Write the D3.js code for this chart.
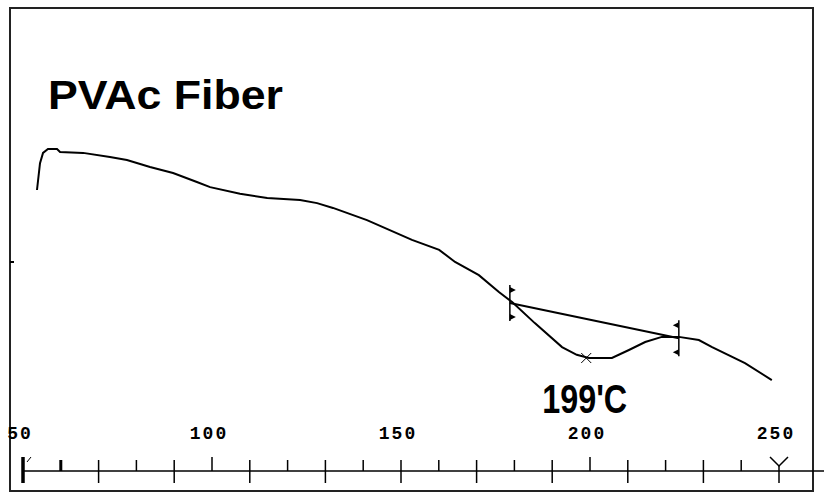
<!DOCTYPE html>
<html>
<head>
<meta charset="utf-8">
<script src="https://d3js.org/d3.v7.min.js"></script>
<style>
  body { margin: 0; background: #fff; }
  svg { display: block; }
</style>
</head>
<body>
<div id="chart"></div>
<script>
// DSC trace (temperature in C, signal in arbitrary units)
const temps = [53.7, 54.5, 55.3, 56.6, 59.0, 59.8, 65.9, 73.0, 77.5, 83.6, 89.7, 96.0, 99.5,
  107.4, 114.6, 123.3, 127.8, 132.0, 141.0, 152.9, 160.1, 164.3, 170.6, 175.9, 179.4, 185.4,
  192.6, 196.5, 199.7, 205.8, 210.3, 214.6, 219.0, 223.5, 228.8, 232.3, 241.0, 248.1];
const signal = [8.75, 9.59, 9.91, 10.03, 10.03, 9.94, 9.91, 9.78, 9.69, 9.47, 9.28, 9.0, 8.84,
  8.63, 8.5, 8.44, 8.34, 8.19, 7.81, 7.19, 6.88, 6.5, 6.09, 5.56, 5.25, 4.59,
  3.84, 3.6, 3.5, 3.5, 3.75, 4.0, 4.16, 4.16, 4.06, 3.84, 3.34, 2.81];

// baseline construction and peak
const onsetT = 178.8, onsetV = 5.22;
const endT = 223.5, endV = 4.12;
const peakT = 199, peakV = 3.5;

const xTicks = [50, 60, 70, 80, 90, 100, 110, 120, 130, 140, 150, 160, 170, 180, 190, 200, 210, 220, 230, 240, 250];
const xLabels = [50, 100, 150, 200, 250];
const yTicks = [6.5];
const title = "PVAc Fiber";

const width = 824, height = 494;
const svg = d3.select('#chart').append('svg')
  .attr('width', width)
  .attr('height', height);

const x = d3.scaleLinear().domain([50, 250]).range([23, 779]);
const y = d3.scaleLinear().domain([0, 10]).range([470, 150]);
const axisY = 471;

// frame
svg.append('rect')
  .attr('x', 10).attr('y', 8)
  .attr('width', 803).attr('height', 483)
  .attr('fill', 'none')
  .attr('stroke', '#222')
  .attr('stroke-width', 2);

// left tick
svg.selectAll('.ytick').data(yTicks).join('line')
  .attr('x1', 10).attr('x2', 14)
  .attr('y1', d => y(d)).attr('y2', d => y(d))
  .attr('stroke', '#000').attr('stroke-width', 2);

// title
svg.append('text')
  .attr('x', 48).attr('y', 109)
  .attr('font-family', 'Liberation Sans, Arial, sans-serif')
  .attr('font-weight', 'bold')
  .attr('font-size', 40)
  .attr('textLength', 235)
  .attr('lengthAdjust', 'spacingAndGlyphs')
  .text(title);

// x axis line
svg.append('line')
  .attr('x1', x(50)).attr('x2', width)
  .attr('y1', axisY).attr('y2', axisY)
  .attr('stroke', '#000').attr('stroke-width', 1.5);

// ticks
const g = svg.append('g').attr('stroke', '#000');
xTicks.forEach(t => {
  const px = x(t);
  if (t === 50) {
    g.append('line').attr('x1', px).attr('x2', px).attr('y1', 457).attr('y2', 483).attr('stroke-width', 3.5);
    g.append('line').attr('x1', px + 4).attr('x2', px + 8).attr('y1', 462).attr('y2', 457).attr('stroke-width', 1);
  } else if (t === 60) {
    g.append('line').attr('x1', px).attr('x2', px).attr('y1', 460).attr('y2', axisY).attr('stroke-width', 3);
  } else if (t === 250) {
    g.append('line').attr('x1', px).attr('x2', px).attr('y1', 465).attr('y2', 483).attr('stroke-width', 1.5);
    g.append('polyline').attr('points', `${px - 9},457 ${px},466 ${px + 9},457`).attr('fill', 'none').attr('stroke-width', 1.5);
  } else if (t % 100 === 0) {
    g.append('line').attr('x1', px).attr('x2', px).attr('y1', 457).attr('y2', axisY).attr('stroke-width', 1.5);
  } else if (t % 20 === 10) {
    g.append('line').attr('x1', px).attr('x2', px).attr('y1', 460).attr('y2', 483).attr('stroke-width', 1.5);
  } else {
    g.append('line').attr('x1', px).attr('x2', px).attr('y1', 460).attr('y2', axisY).attr('stroke-width', 1.5);
  }
});

// tick labels
svg.selectAll('.xlabel').data(xLabels).join('text')
  .attr('x', d => x(d) - 3)
  .attr('y', 439)
  .attr('text-anchor', 'middle')
  .attr('font-family', 'Liberation Mono, DejaVu Sans Mono, monospace')
  .attr('font-size', 18)
  .attr('font-weight', 'bold')
  .attr('letter-spacing', 2)
  .attr('fill', '#000')
  .text(d => d);

// curve
const pts = temps.map((t, i) => [t, signal[i]]);
const line = d3.line().x(d => x(d[0])).y(d => y(d[1])).curve(d3.curveLinear);
svg.append('path')
  .datum(pts)
  .attr('d', line)
  .attr('fill', 'none')
  .attr('stroke', '#000')
  .attr('stroke-width', 2);

// baseline
svg.append('line')
  .attr('x1', x(onsetT)).attr('y1', y(onsetV))
  .attr('x2', x(endT)).attr('y2', y(endV))
  .attr('stroke', '#000').attr('stroke-width', 2);

// limit markers
function marker(t, v, dir) {
  const px = x(t), py = y(v);
  const m = svg.append('g');
  m.append('line').attr('x1', px).attr('x2', px).attr('y1', py - 18).attr('y2', py + 18)
    .attr('stroke', '#000').attr('stroke-width', 1.5);
  [-16, 11].forEach(off => {
    m.append('path')
      .attr('d', `M${px},${py + off} L${px + dir * 6},${py + off + 3} L${px},${py + off + 6} Z`)
      .attr('fill', '#000');
  });
}
marker(onsetT, onsetV, 1);
marker(endT, endV, -1);

// peak cross
const ppx = x(peakT), ppy = y(peakV);
svg.append('path')
  .attr('d', `M${ppx - 5},${ppy - 5} L${ppx + 5},${ppy + 5} M${ppx + 5},${ppy - 5} L${ppx - 5},${ppy + 5}`)
  .attr('stroke', '#000').attr('stroke-width', 1);

svg.append('text')
  .attr('x', ppx - 44).attr('y', 413)
  .attr('font-family', 'Liberation Sans, Arial, sans-serif')
  .attr('font-weight', 'bold')
  .attr('font-size', 41)
  .attr('textLength', 85)
  .attr('lengthAdjust', 'spacingAndGlyphs')
  .text(`${peakT}'C`);
</script>
</body>
</html>
